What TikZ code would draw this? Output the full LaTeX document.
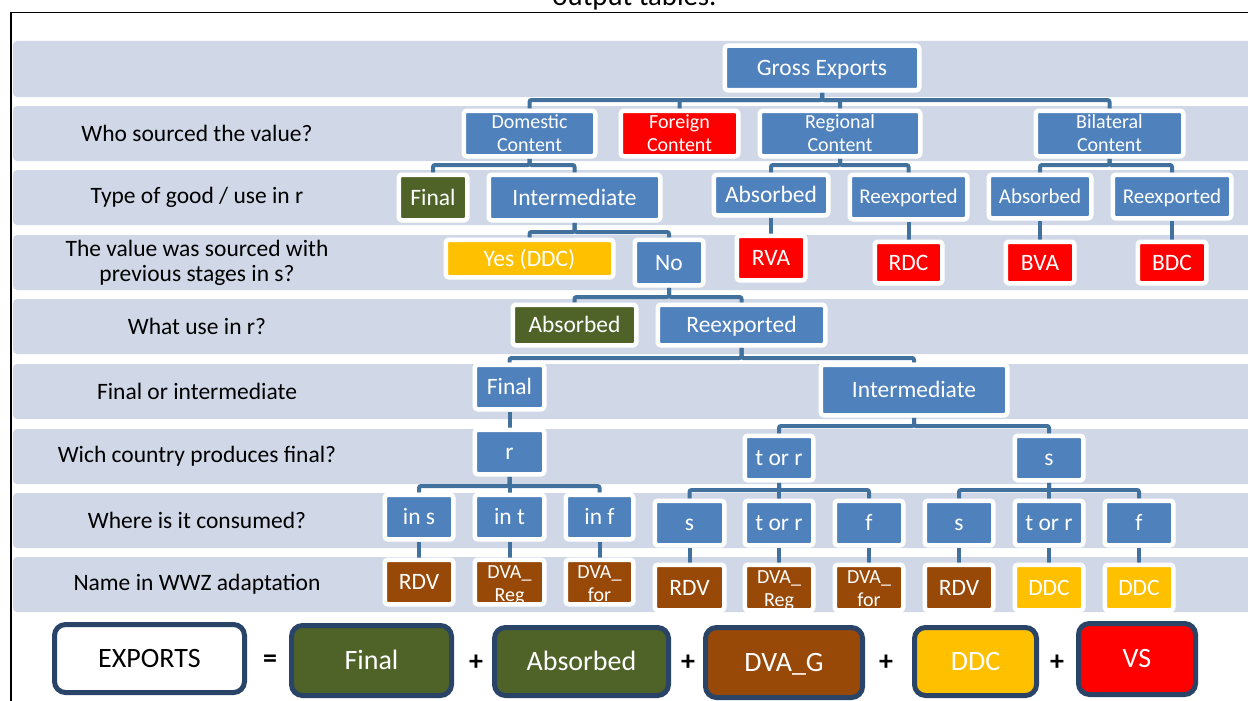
\documentclass[tikz,border=0pt]{standalone}
\usepackage{fontspec}
\setmainfont{Carlito}
\definecolor{bandc}{RGB}{208,216,232}
\definecolor{boxblue}{RGB}{79,129,189}
\definecolor{connc}{RGB}{65,113,156}
\definecolor{grn}{RGB}{79,98,40}
\definecolor{brn}{RGB}{152,72,7}
\definecolor{ylw}{RGB}{255,192,0}
\definecolor{rd}{RGB}{255,0,0}
\definecolor{navy}{RGB}{42,68,103}
\pgfdeclarelayer{bg}\pgfdeclarelayer{conns}\pgfsetlayers{bg,conns,main}
\newcommand\fsA{\fontsize{23.5}{25}\selectfont}
\newcommand\fsS{\fontsize{21}{23}\selectfont}
\newcommand\fsT{\fontsize{20}{23}\selectfont}
\newcommand\fsB{\fontsize{28}{30}\selectfont}
% name, x1, y1, x2, y2 (inner), style, text
\newcommand\mkbox[7]{\node[#6, minimum width={(#4-#2)*1pt+4.5pt}, minimum height={(#5-#3)*1pt+4.5pt}] (#1) at ({(#2+#4)/2},{(#3+#5)/2}) {#7};}
% name, x1, y1, x2, y2 (outer), style, text
\newcommand\mkeq[7]{\node[#6, minimum width={(#4-#2)*1pt-5pt}, minimum height={(#5-#3)*1pt-5pt}] (#1) at ({(#2+#4)/2},{(#3+#5)/2}) {#7};}
\newcommand\mktree[3]{\foreach \c in {#3} {\draw[conn] (#1.south) -- (#1.south |- 0,#2) -| (\c.north);}}
\begin{document}
\begin{tikzpicture}[x=1pt,y=-1pt,
  tbase/.style={draw=white, line width=4.5pt, rounded corners=3pt, inner sep=0pt, text=white, fill=boxblue},
  tb/.style={tbase, font=\fsA, text height=18pt, text depth=2.5pt},
  tbs/.style={tbase, font=\fsS, text height=16pt, text depth=2.3pt},
  tbt/.style={tbase, font=\fsT, align=center},
  conn/.style={draw=connc, line width=4pt, rounded corners=2pt},
  eq/.style={draw=navy, line width=5pt, rounded corners=11pt, inner sep=0pt, text=white, font=\fsB, text height=21pt, text depth=4pt},
  op/.style={font=\fsB\bfseries, inner sep=0pt},
  lab/.style={font=\fsA, align=center, text=black, inner sep=0pt},
  clt/.style={font=\fsT, align=center, text=white, inner sep=0pt, anchor=base}]
\useasboundingbox (0,0) rectangle (1248,701);
\begin{pgfonlayer}{bg}
\foreach \a/\b in {41/97,106/161,170/225,235/290,299/354,364/419,429/484,493/548,557/612}
  \fill[bandc, rounded corners=4pt] (13,\a) rectangle (1262,\b);
\end{pgfonlayer}
\draw[line width=1.3pt] (11,720) -- (11,12.3) -- (1262,12.3);
\node[font=\fontsize{28.8}{30}\selectfont, anchor=base, inner sep=0pt] (cap) at (634.5,5.5) {output tables.};
% left labels
\node[lab] (l1) at (197,133.5) {Who sourced the value?};
\node[lab] (l2) at (197,197.5) {Type of good / use in r};
\node[lab] (l3) at (197,262.5) {The value was sourced with\\previous stages in s?};
\node[lab] (l4) at (197,326.5) {What use in r?};
\node[lab] (l5) at (197,391.5) {Final or intermediate};
\node[lab] (l6) at (197,456.5) {Wich country produces final?};
\node[lab] (l7) at (197,520.5) {Where is it consumed?};
\node[lab] (l8) at (197,584.5) {Name in WWZ adaptation};
% row 1
\mkbox{ge}{727}{48}{917}{88}{tb}{Gross Exports}
% row 2
\mkbox{dom}{466}{113}{593}{154}{tbt}{Domestic\\Content}
\mkbox{for}{623}{113}{736}{154}{tbt,fill=rd}{Foreign\\Content}
\mkbox{reg}{762}{113}{918}{154}{tbt}{Regional\\Content}
\mkbox{bil}{1038}{113}{1181}{154}{tbt}{Bilateral\\Content}
% row 3
\mkbox{fin1}{401}{177}{465}{218}{tb,fill=grn}{Final}
\mkbox{int1}{491}{177}{658}{218}{tb}{Intermediate}
\mkbox{abs1}{716}{177}{826}{213}{tb}{Absorbed}
\mkbox{rex1}{852}{177}{965}{217}{tbs}{Reexported}
\mkbox{abs2}{991}{177}{1089}{216}{tbs}{Absorbed}
\mkbox{rex2}{1115}{177}{1229}{216}{tbs}{Reexported}
% row 4
\mkbox{yes}{448}{242}{611}{275}{tb,fill=ylw}{Yes (DDC)}
\mkbox{no}{637}{242}{701}{283}{tb}{No}
\mkbox{rva}{739}{238}{803}{278}{tb,fill=rd}{RVA}
\mkbox{rdc}{877}{244}{940}{281}{tb,fill=rd}{RDC}
\mkbox{bva}{1008}{244}{1072}{281}{tb,fill=rd}{BVA}
\mkbox{bdc}{1140}{244}{1204}{281}{tb,fill=rd}{BDC}
% row 5
\mkbox{abs3}{515}{307}{634}{343}{tb,fill=grn}{Absorbed}
\mkbox{rex3}{660}{307}{823}{343}{tb}{Reexported}
% row 6
\mkbox{fin2}{477}{367}{542}{407}{tb}{Final}
\mkbox{int2}{823}{367}{1005}{413}{tb}{Intermediate}
% row 7
\mkbox{r}{477}{432}{542}{472}{tb}{r}
\mkbox{tor1}{747}{438}{811}{478}{tb}{t or r}
\mkbox{s1}{1017}{438}{1081}{478}{tb}{s}
% row 8
\mkbox{ins}{387}{497}{451}{537}{tb}{in s}
\mkbox{int}{477}{497}{542}{537}{tb}{in t}
\mkbox{inf}{568}{497}{631}{537}{tb}{in f}
\mkbox{s2}{657}{503}{722}{543}{tb}{s}
\mkbox{tor2}{747}{503}{811}{543}{tb}{t or r}
\mkbox{f2}{837}{503}{901}{543}{tb}{f}
\mkbox{s3}{927}{503}{991}{543}{tb}{s}
\mkbox{tor3}{1017}{503}{1081}{543}{tb}{t or r}
\mkbox{f3}{1107}{503}{1171}{543}{tb}{f}
% row 9
\mkbox{rdv1}{387}{562}{451}{602}{tb,fill=brn}{RDV}
\mkbox{dr1}{477}{562}{542}{602}{tbase,fill=brn}{}
\mkbox{df1}{568}{562}{631}{602}{tbase,fill=brn}{}
\mkbox{rdv2}{657}{567}{722}{608}{tb,fill=brn}{RDV}
\mkbox{dr2}{747}{567}{811}{608}{tbase,fill=brn}{}
\mkbox{df2}{837}{567}{901}{608}{tbase,fill=brn}{}
\mkbox{rdv3}{927}{567}{991}{608}{tb,fill=brn}{RDV}
\mkbox{ddc1}{1017}{567}{1081}{608}{tb,fill=ylw}{DDC}
\mkbox{ddc2}{1107}{567}{1171}{608}{tb,fill=ylw}{DDC}
\begin{scope}\clip (477,562) rectangle (542,602); \node[clt] (dr1t) at (509.5,601) {DVA\_\\Reg};\end{scope}
\begin{scope}\clip (568,562) rectangle (631,602); \node[clt] (df1t) at (599.5,601) {DVA\_\\for};\end{scope}
\begin{scope}\clip (747,567) rectangle (811,608); \node[clt] (dr2t) at (779,606) {DVA\_\\Reg};\end{scope}
\begin{scope}\clip (837,567) rectangle (901,608); \node[clt] (df2t) at (869,606) {DVA\_\\for};\end{scope}
% connectors
\begin{pgfonlayer}{conns}
\mktree{ge}{100}{dom,for,reg,bil}
\mktree{dom}{165}{fin1,int1}
\mktree{reg}{165}{abs1,rex1}
\mktree{bil}{165}{abs2,rex2}
\draw[conn] (abs1.south) -- (rva.north);
\draw[conn] (rex1.south) -- (rdc.north);
\draw[conn] (abs2.south) -- (bva.north);
\draw[conn] (rex2.south) -- (bdc.north);
\mktree{int1}{232}{yes,no}
\mktree{no}{297}{abs3,rex3}
\mktree{rex3}{358}{fin2,int2}
\draw[conn] (fin2.south) -- (r.north);
\mktree{int2}{426}{tor1,s1}
\mktree{r}{486}{ins,int,inf}
\mktree{tor1}{490}{s2,tor2,f2}
\mktree{s1}{490}{s3,tor3,f3}
\draw[conn] (ins.south) -- (rdv1.north);
\draw[conn] (int.south) -- (dr1.north);
\draw[conn] (inf.south) -- (df1.north);
\draw[conn] (s2.south) -- (rdv2.north);
\draw[conn] (tor2.south) -- (dr2.north);
\draw[conn] (f2.south) -- (df2.north);
\draw[conn] (s3.south) -- (rdv3.north);
\draw[conn] (tor3.south) -- (ddc1.north);
\draw[conn] (f3.south) -- (ddc2.north);
\end{pgfonlayer}
% equation
\mkeq{exp}{52}{622}{247}{695}{eq,fill=white,text=black}{EXPORTS}
\node[op] (o1) at (270,661) {=};
\mkeq{efin}{289}{623}{454}{698}{eq,fill=grn}{Final}
\node[op] (o2) at (476,663) {+};
\mkeq{eabs}{492}{625}{671}{698}{eq,fill=grn}{Absorbed}
\node[op] (o3) at (688,663) {+};
\mkeq{edva}{703}{625}{865}{700}{eq,fill=brn}{DVA\_G}
\node[op] (o4) at (886,663) {+};
\mkeq{eddc}{912}{625}{1039}{698}{eq,fill=ylw}{DDC}
\node[op] (o5) at (1057,663) {+};
\mkeq{evs}{1076}{621}{1198}{697}{eq,fill=rd}{VS}
\end{tikzpicture}
\end{document}
